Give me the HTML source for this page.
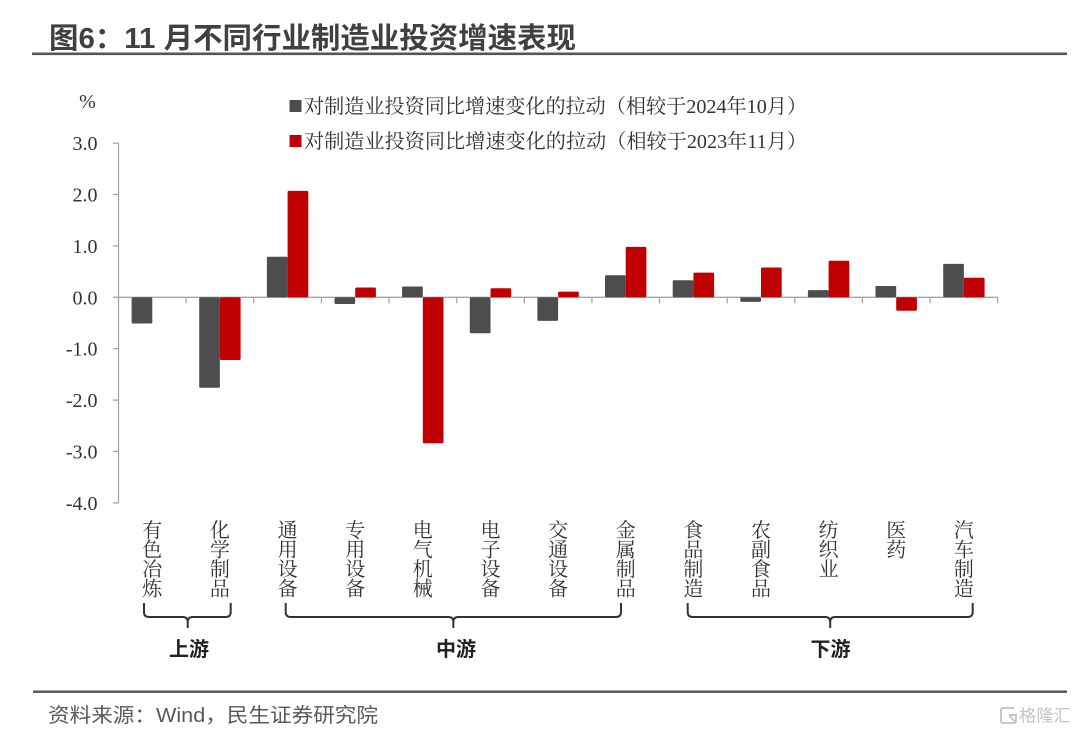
<!DOCTYPE html>
<html><head><meta charset="utf-8"><style>
html,body{margin:0;padding:0;background:#fff;}
svg{display:block;}
.serif{font-family:"Liberation Serif","Noto Serif CJK SC",serif;}
.sans{font-family:"Liberation Sans","Noto Sans CJK SC",sans-serif;}
</style></head><body>
<svg width="1080" height="739" viewBox="0 0 1080 739" xmlns="http://www.w3.org/2000/svg">
<rect width="1080" height="739" fill="#fff"/>
<!-- title -->
<text x="49" y="48" class="sans" font-size="29" font-weight="bold" fill="#404040" textLength="527" lengthAdjust="spacingAndGlyphs">图6：11 月不同行业制造业投资增速表现</text>
<rect x="32" y="52.5" width="1035" height="2.6" fill="#555"/>

<!-- legend -->
<rect x="289.5" y="100" width="12" height="12" fill="#4d4d4f"/>
<text x="304" y="113" class="serif" font-size="20" fill="#333" textLength="503" lengthAdjust="spacingAndGlyphs">对制造业投资同比增速变化的拉动（相较于2024年10月）</text>
<rect x="289.5" y="135" width="12" height="12" fill="#c00000"/>
<text x="304" y="148" class="serif" font-size="20" fill="#333" textLength="503" lengthAdjust="spacingAndGlyphs">对制造业投资同比增速变化的拉动（相较于2023年11月）</text>

<!-- y axis -->
<text x="87.5" y="108" class="serif" font-size="20" fill="#333" text-anchor="middle">%</text>
<g stroke="#a6a6a6" stroke-width="1.3" fill="none">
<line x1="118.5" y1="143.1" x2="118.5" y2="502.9"/>
<line x1="113" y1="143.1" x2="118.5" y2="143.1"/>
<line x1="113" y1="194.5" x2="118.5" y2="194.5"/>
<line x1="113" y1="245.9" x2="118.5" y2="245.9"/>
<line x1="113" y1="297.3" x2="118.5" y2="297.3"/>
<line x1="113" y1="348.7" x2="118.5" y2="348.7"/>
<line x1="113" y1="400.1" x2="118.5" y2="400.1"/>
<line x1="113" y1="451.5" x2="118.5" y2="451.5"/>
<line x1="113" y1="502.9" x2="118.5" y2="502.9"/>
<!-- x axis -->
<line x1="118.5" y1="297.3" x2="997.7" y2="297.3"/>
<line x1="186.1" y1="297.3" x2="186.1" y2="303.3"/>
<line x1="253.8" y1="297.3" x2="253.8" y2="303.3"/>
<line x1="321.4" y1="297.3" x2="321.4" y2="303.3"/>
<line x1="389.0" y1="297.3" x2="389.0" y2="303.3"/>
<line x1="456.7" y1="297.3" x2="456.7" y2="303.3"/>
<line x1="524.3" y1="297.3" x2="524.3" y2="303.3"/>
<line x1="591.9" y1="297.3" x2="591.9" y2="303.3"/>
<line x1="659.5" y1="297.3" x2="659.5" y2="303.3"/>
<line x1="727.2" y1="297.3" x2="727.2" y2="303.3"/>
<line x1="794.8" y1="297.3" x2="794.8" y2="303.3"/>
<line x1="862.4" y1="297.3" x2="862.4" y2="303.3"/>
<line x1="930.1" y1="297.3" x2="930.1" y2="303.3"/>
<line x1="997.7" y1="297.3" x2="997.7" y2="303.3"/>
</g>
<g class="serif" font-size="20" fill="#333" text-anchor="end">
<text x="97.5" y="150.1">3.0</text>
<text x="97.5" y="201.5">2.0</text>
<text x="97.5" y="252.9">1.0</text>
<text x="97.5" y="304.3">0.0</text>
<text x="97.5" y="355.7">-1.0</text>
<text x="97.5" y="407.1">-2.0</text>
<text x="97.5" y="458.5">-3.0</text>
<text x="97.5" y="509.9">-4.0</text>
</g>

<!-- gray bars -->
<g fill="#4d4d4f">
<rect x="131.6" y="297.3" width="20.7" height="26.2" rx="1.2"/>
<rect x="199.2" y="297.3" width="20.7" height="90.5" rx="1.2"/>
<rect x="266.9" y="256.7" width="20.7" height="40.6" rx="1.2"/>
<rect x="334.5" y="297.3" width="20.7" height="6.7" rx="1.2"/>
<rect x="402.1" y="286.5" width="20.7" height="10.8" rx="1.2"/>
<rect x="469.8" y="297.3" width="20.7" height="36" rx="1.2"/>
<rect x="537.4" y="297.3" width="20.7" height="23.6" rx="1.2"/>
<rect x="605.0" y="275.2" width="20.7" height="22.1" rx="1.2"/>
<rect x="672.7" y="280.3" width="20.7" height="17" rx="1.2"/>
<rect x="740.3" y="297.3" width="20.7" height="4.6" rx="1.2"/>
<rect x="807.9" y="290.1" width="20.7" height="7.2" rx="1.2"/>
<rect x="875.5" y="286.0" width="20.7" height="11.3" rx="1.2"/>
<rect x="943.2" y="263.9" width="20.7" height="33.4" rx="1.2"/>
</g>
<!-- red bars -->
<g fill="#c00000">
<rect x="219.9" y="297.3" width="20.7" height="62.7" rx="1.2"/>
<rect x="287.6" y="190.9" width="20.7" height="106.4" rx="1.2"/>
<rect x="355.2" y="287.5" width="20.7" height="9.8" rx="1.2"/>
<rect x="422.8" y="297.3" width="20.7" height="146" rx="1.2"/>
<rect x="490.5" y="288.3" width="20.7" height="9" rx="1.2"/>
<rect x="558.1" y="291.6" width="20.7" height="5.7" rx="1.2"/>
<rect x="625.7" y="246.9" width="20.7" height="50.4" rx="1.2"/>
<rect x="693.4" y="272.6" width="20.7" height="24.7" rx="1.2"/>
<rect x="761.0" y="267.5" width="20.7" height="29.8" rx="1.2"/>
<rect x="828.6" y="260.8" width="20.7" height="36.5" rx="1.2"/>
<rect x="896.2" y="297.3" width="20.7" height="13.4" rx="1.2"/>
<rect x="963.9" y="277.8" width="20.7" height="19.5" rx="1.2"/>
</g>

<!-- category labels (vertical) -->
<g class="serif" font-size="20" fill="#333" text-anchor="middle">
<text x="152.3" y="537">有</text><text x="152.3" y="556.5">色</text><text x="152.3" y="576">冶</text><text x="152.3" y="595.5">炼</text>
<text x="219.9" y="537">化</text><text x="219.9" y="556.5">学</text><text x="219.9" y="576">制</text><text x="219.9" y="595.5">品</text>
<text x="287.6" y="537">通</text><text x="287.6" y="556.5">用</text><text x="287.6" y="576">设</text><text x="287.6" y="595.5">备</text>
<text x="355.2" y="537">专</text><text x="355.2" y="556.5">用</text><text x="355.2" y="576">设</text><text x="355.2" y="595.5">备</text>
<text x="422.8" y="537">电</text><text x="422.8" y="556.5">气</text><text x="422.8" y="576">机</text><text x="422.8" y="595.5">械</text>
<text x="490.5" y="537">电</text><text x="490.5" y="556.5">子</text><text x="490.5" y="576">设</text><text x="490.5" y="595.5">备</text>
<text x="558.1" y="537">交</text><text x="558.1" y="556.5">通</text><text x="558.1" y="576">设</text><text x="558.1" y="595.5">备</text>
<text x="625.7" y="537">金</text><text x="625.7" y="556.5">属</text><text x="625.7" y="576">制</text><text x="625.7" y="595.5">品</text>
<text x="693.4" y="537">食</text><text x="693.4" y="556.5">品</text><text x="693.4" y="576">制</text><text x="693.4" y="595.5">造</text>
<text x="761.0" y="537">农</text><text x="761.0" y="556.5">副</text><text x="761.0" y="576">食</text><text x="761.0" y="595.5">品</text>
<text x="828.6" y="537">纺</text><text x="828.6" y="556.5">织</text><text x="828.6" y="576">业</text>
<text x="896.2" y="537">医</text><text x="896.2" y="556.5">药</text>
<text x="963.9" y="537">汽</text><text x="963.9" y="556.5">车</text><text x="963.9" y="576">制</text><text x="963.9" y="595.5">造</text>
</g>

<!-- braces -->
<g stroke="#333" stroke-width="2" fill="none">
<path d="M144,603 V612 Q144,617 149,617 H182.7 Q187.7,617 187.7,622 V628 M187.7,622 Q187.7,617 192.7,617 H225.7 Q230.7,617 230.7,612 V603"/>
<path d="M285.7,603 V612 Q285.7,617 290.7,617 H448.4 Q453.4,617 453.4,622 V628 M453.4,622 Q453.4,617 458.4,617 H616 Q621,617 621,612 V603"/>
<path d="M687.7,603 V612 Q687.7,617 692.7,617 H825.2 Q830.2,617 830.2,622 V628 M830.2,622 Q830.2,617 835.2,617 H967.7 Q972.7,617 972.7,612 V603"/>
</g>
<g class="sans" font-size="20" font-weight="bold" fill="#222" text-anchor="middle">
<text x="189" y="656">上游</text>
<text x="456" y="656">中游</text>
<text x="830.5" y="656">下游</text>
</g>

<!-- footer -->
<rect x="33" y="690.5" width="1034" height="2.4" fill="#555"/>
<text x="48" y="722" class="sans" font-size="20" fill="#595959" textLength="330" lengthAdjust="spacingAndGlyphs">资料来源：Wind，民生证券研究院</text>
<!-- watermark -->
<g fill="none" stroke="#c8c8c8" stroke-width="2">
<path d="M1014,708 H1003 Q1001,708 1001,710 V721 Q1001,723 1003,723 H1014 Q1016,723 1016,721 V715 H1009"/>
<path d="M1009,715 L1015,722"/>
</g>
<text x="1019" y="721.5" class="sans" font-size="17" fill="#c4c4c4" textLength="52" lengthAdjust="spacingAndGlyphs">格隆汇</text>
</svg>
</body></html>
